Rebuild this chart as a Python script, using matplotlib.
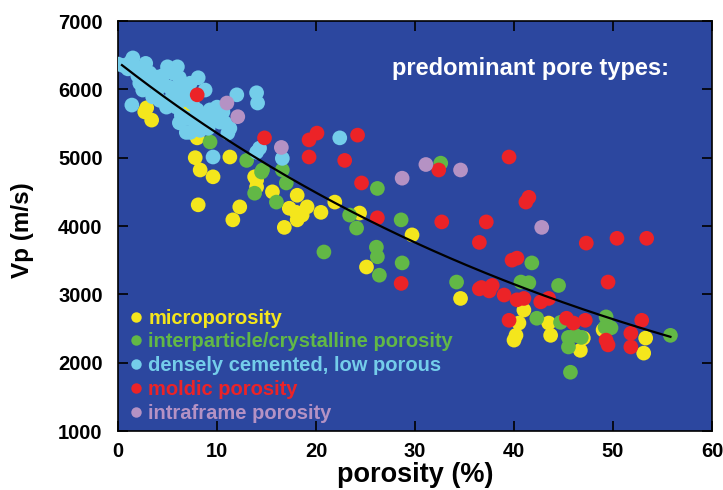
import numpy as np
import matplotlib
matplotlib.use("Agg")
import matplotlib.pyplot as plt
from matplotlib.lines import Line2D

# ── Porosity (%) and P-wave velocity (m/s) per predominant pore type ──────────
micro_phi = [2.7, 3.4, 2.9, 7.0, 8.0, 7.8, 8.3, 11.3, 9.6, 13.8, 8.1, 12.3, 11.6,
             14.0, 14.0, 15.6, 18.1, 17.3, 18.0, 18.6, 18.1, 19.1, 20.5, 21.9,
             24.4, 16.8, 25.1, 29.7, 34.6, 41.0, 40.5, 40.2, 40.0, 43.5, 43.7,
             46.7, 47.0, 49.0, 53.3, 53.1]
micro_vp = [5670, 5550, 5730, 5670, 5290, 5000, 4820, 5010, 4720, 4720, 4310, 4280,
            4090, 4670, 4570, 4500, 4450, 4260, 4200, 4160, 4090, 4280, 4200, 4350,
            4190, 3980, 3400, 3870, 2940, 2770, 2580, 2400, 2330, 2580, 2400,
            2180, 2360, 2480, 2360, 2140]

inter_phi = [9.3, 13.0, 14.6, 16.6, 14.5, 17.0, 13.8, 16.0, 23.4, 24.1, 26.1, 26.2,
             20.8, 26.2, 32.6, 28.6, 28.7, 26.4, 34.2, 40.7, 41.5, 41.8, 44.5,
             42.3, 44.7, 45.5, 46.2, 46.8, 45.5, 49.3, 49.2, 49.8, 55.8, 45.7]
inter_vp = [5230, 4960, 4820, 4820, 4790, 4630, 4480, 4350, 4160, 3970, 3690, 3550,
            3620, 4550, 4920, 4090, 3460, 3280, 3180, 3180, 3170, 3460, 3130,
            2650, 2590, 2370, 2400, 2370, 2230, 2670, 2520, 2510, 2400, 1860]

dense_phi = [0.0, 1.5, 1.2, 2.4, 3.2, 3.9, 5.0, 6.0, 5.5, 6.2, 4.5, 5.2, 5.9, 6.5,
             7.3, 8.1, 8.8, 7.3, 3.5, 4.2, 1.4, 2.5, 2.2, 4.9, 5.9, 6.4, 7.0, 6.2,
             7.8, 8.6, 9.3, 10.0, 10.6, 9.6, 10.3, 10.8, 11.3, 9.1, 8.3, 7.3, 12.0,
             14.0, 14.1, 14.3, 22.4, 14.0, 9.6, 16.6, 6.9, 11.1, 2.0, 3.0, 4.0, 1.0,
             0.5, 2.8, 7.5, 8.0, 9.0, 6.8, 5.5, 4.5]
dense_vp = [6370, 6460, 6390, 6310, 6240, 6180, 6330, 6330, 6240, 6170, 6090, 6030,
            5990, 6030, 6090, 6170, 5990, 5950, 5890, 5840, 5770, 5990, 6090, 5740,
            5740, 5620, 5580, 5510, 5510, 5590, 5700, 5740, 5670, 5550, 5520, 5510,
            5430, 5430, 5400, 5370, 5920, 5950, 5800, 5140, 5290, 5080, 5010, 4990,
            5370, 5360, 6200, 6100, 6000, 6300, 6350, 6380, 5800, 5700, 5600, 5850,
            5900, 6200]

moldic_phi = [8.0, 14.8, 19.3, 20.1, 19.3, 22.9, 24.2, 24.6, 32.4, 39.5, 41.5, 41.2,
              26.2, 32.7, 37.2, 36.5, 39.8, 40.3, 28.6, 36.7, 37.8, 47.3, 50.4,
              53.4, 49.5, 36.5, 37.5, 39.0, 40.3, 41.0, 42.7, 43.5, 39.5, 45.3,
              46.0, 47.2, 52.9, 49.3, 49.5, 51.8, 51.8]
moldic_vp = [5920, 5290, 5260, 5360, 5010, 4960, 5330, 4630, 4820, 5010, 4420, 4350,
             4120, 4060, 4060, 3760, 3500, 3530, 3160, 3100, 3130, 3750, 3820,
             3820, 3180, 3080, 3050, 2990, 2920, 2940, 2890, 2940, 2620, 2650,
             2580, 2620, 2620, 2330, 2260, 2430, 2230]

intra_phi = [11.0, 12.1, 16.5, 28.7, 31.1, 34.6, 42.8]
intra_vp = [5800, 5600, 5150, 4700, 4900, 4820, 3980]

# Exponential trend  Vp = A * exp(-B * phi)
TREND_A = 6400.0
TREND_B = 0.01774
trend_range = (0.4, 55.8)

# ── Style ─────────────────────────────────────────────────────────────────────
BG_BLUE = '#2C479F'
YELLOW = '#F4E61C'
GREEN = '#62B846'
CYAN = '#74CDEA'
RED = '#EC2327'
PURPLE = '#B592C4'

series = [
    ('microporosity', micro_phi, micro_vp, YELLOW),
    ('interparticle/crystalline porosity', inter_phi, inter_vp, GREEN),
    ('densely cemented, low porous', dense_phi, dense_vp, CYAN),
    ('moldic porosity', moldic_phi, moldic_vp, RED),
    ('intraframe porosity', intra_phi, intra_vp, PURPLE),
]

plt.rcParams['font.family'] = ['Liberation Sans', 'DejaVu Sans']
plt.rcParams['font.weight'] = 'bold'

fig = plt.figure(figsize=(7.23, 4.90), dpi=100)
ax = fig.add_axes([0.1632, 0.1204, 0.8216, 0.8367])
ax.set_facecolor(BG_BLUE)

for name, phi, vp, col in series:
    ax.scatter(phi, vp, s=112, color=col, edgecolors='none', zorder=3)

x_fit = np.linspace(trend_range[0], trend_range[1], 200)
ax.plot(x_fit, TREND_A * np.exp(-TREND_B * x_fit), color='black', lw=1.6, zorder=4)

ax.set_xlim(0, 60)
ax.set_ylim(1000, 7000)
ax.set_xticks(np.arange(0, 61, 10))
ax.set_yticks(np.arange(1000, 7001, 1000))
ax.tick_params(direction='in', length=7, width=1.2, top=True, right=True,
               labelsize=14.5, colors='black')
ax.tick_params(axis='x', pad=8)
ax.tick_params(axis='y', pad=11)
for lbl in ax.get_xticklabels() + ax.get_yticklabels():
    lbl.set_fontweight('bold')
for sp in ax.spines.values():
    sp.set_linewidth(1.2)
    sp.set_color('black')

ax.set_xlabel('porosity (%)', fontsize=19.5, fontweight='bold')
ax.set_ylabel('Vp (m/s)', fontsize=17.5, fontweight='bold')
ax.xaxis.set_label_coords(0.5, -0.076)
ax.yaxis.set_label_coords(-0.141, 0.49)

ax.text(0.461, 0.885, 'predominant pore types:', transform=ax.transAxes,
        ha='left', va='center', fontsize=17, fontweight='bold', color='white')

handles = [Line2D([], [], ls='none', marker='o', markersize=7.5,
                  markerfacecolor=col, markeredgecolor='none')
           for _, _, _, col in series]
leg = ax.legend(handles, [s[0] for s in series], loc='lower left',
                bbox_to_anchor=(0.0, 0.0), frameon=False, handletextpad=0.1,
                handlelength=1.0, labelspacing=0.24, borderaxespad=0.0,
                prop={'size': 14.5, 'weight': 'bold'})
for txt, (_, _, _, col) in zip(leg.get_texts(), series):
    txt.set_color(col)

fig.savefig('out.png', dpi=100, facecolor='white')
